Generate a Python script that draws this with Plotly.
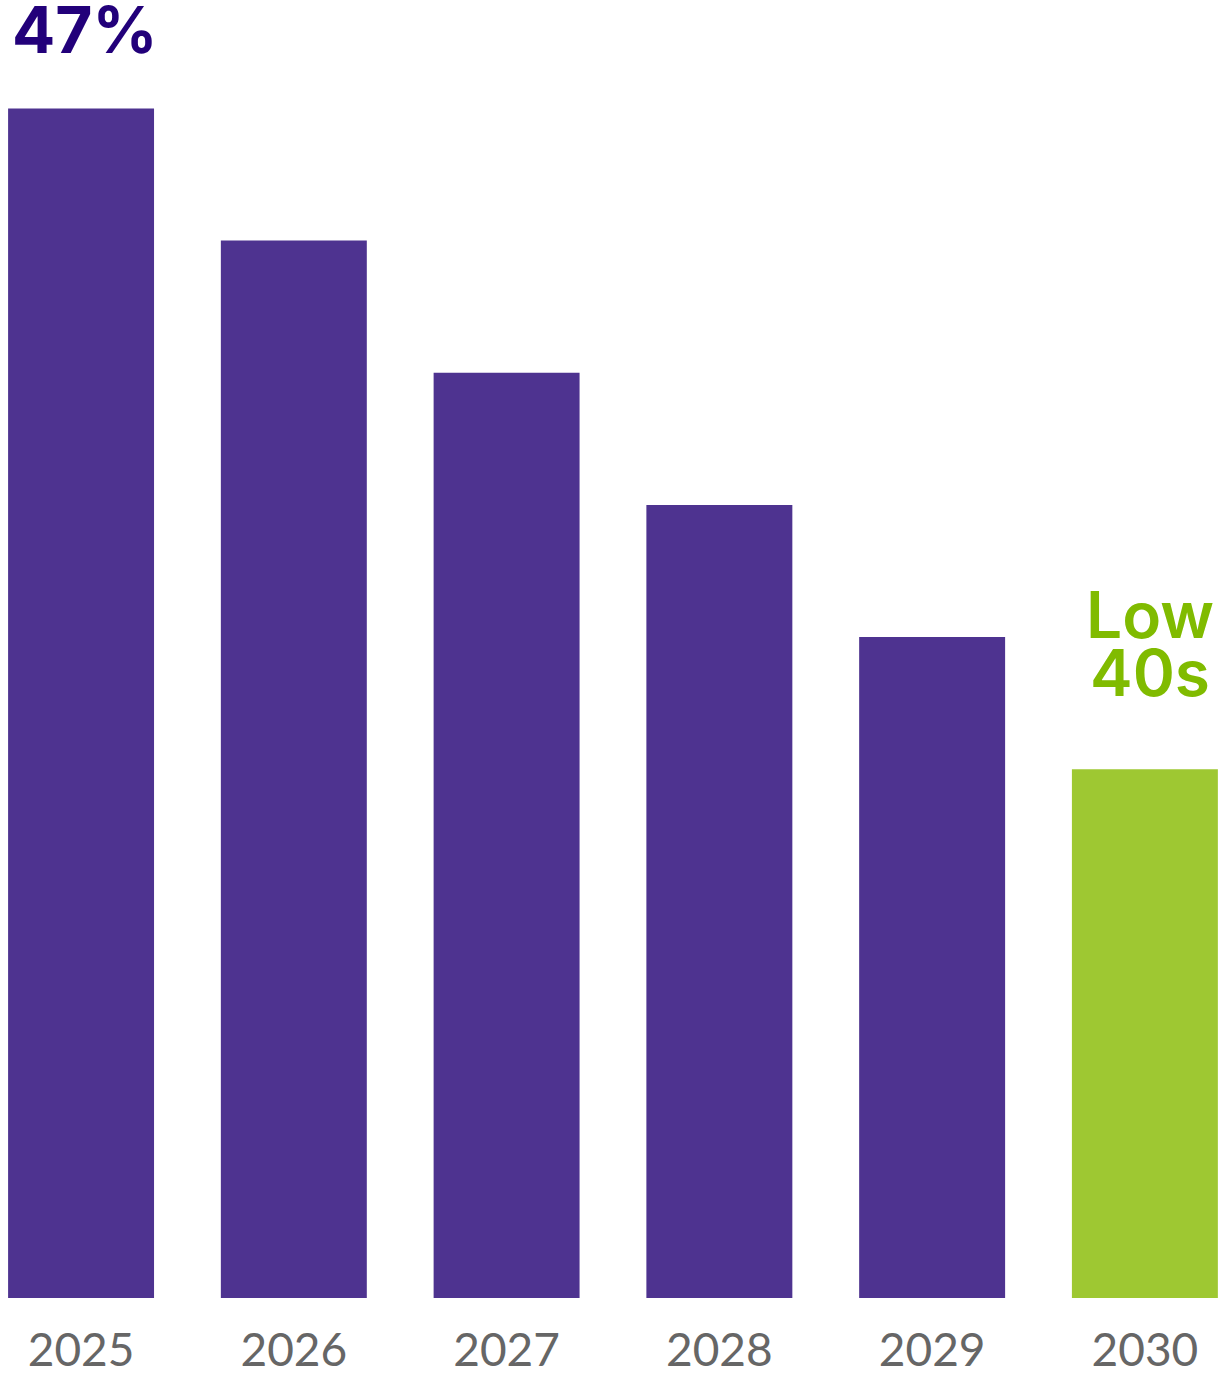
import plotly.graph_objects as go

# Share by year (percent); later years are a projection down to the low 40s
years = ["2025", "2026", "2027", "2028", "2029", "2030"]
share_pct = [47, 46, 45, 44, 43, 42]
bar_colors = ["#4e3390", "#4e3390", "#4e3390", "#4e3390", "#4e3390", "#9ec832"]

headline_label = "47%"
outlook_label_lines = ["Low", "40s"]

fig = go.Figure(
    go.Bar(
        x=years,
        y=share_pct,
        marker=dict(color=bar_colors, line=dict(width=0)),
        hoverinfo="skip",
    )
)

# Headline value above the first bar (fixed box height keeps it on the page)
fig.add_annotation(
    x=0, y=share_pct[0], xref="x", yref="y",
    text=headline_label,
    showarrow=False, xanchor="center", yanchor="bottom",
    height=62, valign="middle",
    xshift=4, yshift=46,
    font=dict(family="Inter", size=64, weight=700, color="#22007a"),
)

# Two-line outlook label above the last bar, set as separate lines for tight leading
for i, line in enumerate(outlook_label_lines):
    fig.add_annotation(
        x=len(years) - 1, y=share_pct[-1], xref="x", yref="y",
        text=line,
        showarrow=False, xanchor="center", yanchor="bottom",
        height=56, valign="middle",
        xshift=5, yshift=67 + (len(outlook_label_lines) - 1 - i) * 58,
        font=dict(family="Inter", size=64, weight=600, color="#80bb00"),
    )

fig.update_layout(
    width=1230,
    height=1383,
    margin=dict(l=0, r=0, t=0, b=85),
    paper_bgcolor="white",
    plot_bgcolor="white",
    bargap=0.314,
    showlegend=False,
    xaxis=dict(
        type="category",
        range=[-0.381, 5.40],
        showgrid=False, zeroline=False, showline=False,
        ticks="", ticklabelstandoff=21,
        tickfont=dict(family="Lato", size=46, color="#666666"),
    ),
    yaxis=dict(
        range=[38, 47.82],
        showgrid=False, zeroline=False, showline=False,
        showticklabels=False, ticks="",
    ),
)

fig.write_html("out.html")
